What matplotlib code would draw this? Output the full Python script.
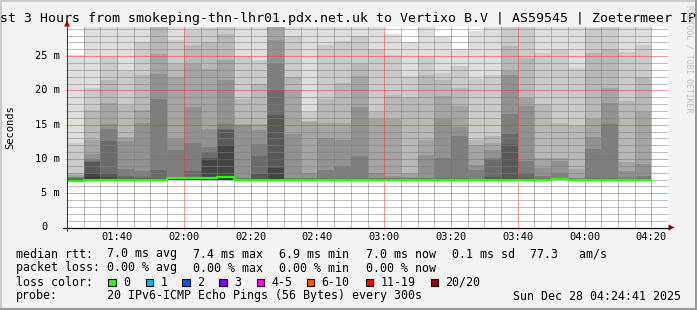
import matplotlib
matplotlib.use("Agg")
import matplotlib.pyplot as plt
from matplotlib.patches import Rectangle, Polygon
from matplotlib.lines import Line2D
from matplotlib.ticker import FixedLocator

# ---------------- data ----------------
title = "st 3 Hours from smokeping-thn-lhr01.pdx.net.uk to Vertixo B.V | AS59545 | Zoetermeer IP"

bin_start = ["01:25", "01:30", "01:35", "01:40", "01:45", "01:50", "01:55",
             "02:00", "02:05", "02:10", "02:15", "02:20", "02:25", "02:30",
             "02:35", "02:40", "02:45", "02:50", "02:55", "03:00", "03:05",
             "03:10", "03:15", "03:20", "03:25", "03:30", "03:35", "03:40",
             "03:45", "03:50", "03:55", "04:00", "04:05", "04:10", "04:15"]
bin_end = "04:20"

# upper ping quantiles per 5-min bin, in ms: [p20, p19, ..., p11] (20 pings sorted)
smoke_upper = [
    [25.2, 12.4, 8.0, 7.6, 7.4, 7.3, 7.2, 7.1, 7.0, 7.0],
    [30.0, 20.4, 17.2, 12.7, 10.7, 9.8, 9.7, 9.6, 8.0, 7.3],
    [30.0, 24.9, 21.5, 18.2, 15.1, 14.3, 12.6, 8.0, 7.3, 7.1],
    [30.0, 22.8, 17.9, 13.2, 12.6, 8.5, 7.5, 7.2, 7.1, 7.05],
    [30.0, 27.1, 22.2, 17.2, 15.2, 8.3, 7.3, 7.2, 7.1, 7.05],
    [30.0, 30.0, 30.0, 25.3, 22.4, 18.8, 8.4, 7.2, 7.1, 7.05],
    [30.0, 27.4, 23.8, 21.9, 12.9, 11.3, 7.4, 7.3, 7.25, 7.2],
    [30.0, 28.8, 26.6, 23.8, 17.6, 12.4, 8.3, 7.3, 7.25, 7.2],
    [30.0, 29.1, 27.1, 23.1, 14.3, 11.7, 11.0, 10.1, 9.9, 7.3],
    [30.0, 30.0, 28.2, 24.5, 21.5, 15.1, 14.3, 14.2, 12.1, 7.5],
    [30.0, 25.0, 18.7, 15.1, 15.0, 7.2, 7.15, 7.1, 7.05, 7.0],
    [30.0, 24.5, 21.0, 15.1, 14.2, 12.2, 10.5, 7.8, 7.2, 7.1],
    [30.0, 30.0, 30.0, 30.0, 27.4, 23.8, 20.0, 16.4, 8.7, 7.2],
    [30.0, 28.0, 21.9, 20.0, 13.6, 7.2, 7.15, 7.1, 7.05, 7.0],
    [30.0, 16.9, 15.5, 15.45, 7.9, 7.2, 7.15, 7.1, 7.05, 7.0],
    [30.0, 26.6, 18.7, 15.2, 13.0, 8.4, 7.2, 7.1, 7.05, 7.0],
    [30.0, 27.2, 21.1, 15.2, 12.7, 9.0, 7.2, 7.1, 7.05, 7.0],
    [30.0, 28.0, 23.8, 22.1, 17.6, 10.4, 7.2, 7.1, 7.05, 7.0],
    [30.0, 26.1, 16.9, 15.9, 7.9, 7.2, 7.15, 7.1, 7.05, 7.0],
    [28.3, 25.2, 19.3, 15.8, 7.5, 7.2, 7.15, 7.1, 7.05, 7.0],
    [27.1, 22.1, 19.0, 7.9, 7.3, 7.2, 7.15, 7.1, 7.05, 7.0],
    [30.0, 24.9, 22.3, 12.7, 10.6, 7.2, 7.15, 7.1, 7.05, 7.0],
    [28.0, 22.6, 21.5, 19.2, 15.8, 10.1, 7.2, 7.1, 7.05, 7.0],
    [26.0, 23.5, 20.3, 17.7, 14.7, 13.4, 7.2, 7.1, 7.05, 7.0],
    [28.6, 21.6, 12.7, 12.1, 9.1, 8.4, 7.1, 7.0, 6.95, 6.9],
    [30.0, 22.3, 13.4, 12.3, 11.3, 10.2, 9.8, 7.3, 7.1, 7.05],
    [30.0, 30.0, 26.5, 22.8, 22.2, 16.5, 13.7, 12.2, 7.2, 7.1],
    [30.0, 30.0, 24.8, 18.9, 17.7, 9.7, 8.0, 7.2, 7.1, 7.05],
    [30.0, 25.4, 18.0, 10.1, 8.7, 7.5, 7.2, 7.1, 7.05, 7.0],
    [30.0, 26.0, 15.3, 10.2, 9.7, 8.0, 7.2, 7.15, 7.1, 7.1],
    [30.0, 23.2, 14.8, 8.5, 7.2, 7.15, 7.1, 7.05, 7.0, 7.0],
    [30.0, 29.1, 25.4, 15.9, 13.2, 11.4, 7.2, 7.1, 7.05, 7.0],
    [30.0, 30.0, 26.0, 20.3, 18.1, 15.1, 7.2, 7.1, 7.05, 7.0],
    [30.0, 25.6, 18.4, 9.5, 8.3, 7.4, 7.0, 6.95, 6.9, 6.9],
    [30.0, 26.6, 21.9, 16.9, 9.2, 7.5, 7.2, 7.1, 7.05, 7.0],
]

# lowest ping per bin (ms)
smoke_min = [6.8, 6.9, 6.9, 6.9, 6.9, 6.9, 7.0, 7.0, 7.0, 7.0,
             6.9, 6.9, 6.9, 6.9, 6.9, 6.9, 6.9, 6.9, 6.9, 6.9,
             6.9, 6.9, 6.9, 6.9, 6.8, 6.9, 6.9, 6.9, 6.9, 6.95,
             6.9, 6.9, 6.9, 6.8, 6.9]

# median rtt per bin (ms)
median_rtt = [6.85, 7.0, 7.0, 7.0, 7.0, 7.0, 7.2, 7.2, 7.2, 7.4,
              7.0, 7.0, 7.0, 7.0, 7.0, 7.0, 7.0, 7.0, 7.0, 7.0,
              7.0, 7.0, 7.0, 7.0, 6.88, 7.0, 7.0, 7.0, 7.0, 7.12,
              7.0, 7.0, 7.0, 6.88, 7.0]

x_range = ["01:25", "04:25"]
x_major = ["01:40", "02:00", "02:20", "02:40", "03:00", "03:20", "03:40", "04:00", "04:20"]
y_major = [0, 5, 10, 15, 20, 25]
y_major_labels = ["0", "5 m", "10 m", "15 m", "20 m", "25 m"]
y_top = 29.25

loss_labels = ["0", "1", "2", "3", "4-5", "6-10", "11-19", "20/20"]
loss_colors = ["#26ff00", "#00b8ff", "#0059ff", "#7e00ff", "#ff00ff", "#ff5500", "#ff0000", "#a10000"]

rtt_legend = ["7.0 ms avg", "7.4 ms max", "6.9 ms min", "7.0 ms now", "0.1 ms sd", "77.3   am/s"]
loss_legend = ["0.00 % avg", "0.00 % max", "0.00 % min", "0.00 % now"]
probe_text = "20 IPv6-ICMP Echo Pings (56 Bytes) every 300s"
stamp_text = "Sun Dec 28 04:24:41 2025"


def tmin(s):
    h, m = s.split(":")
    return int(h) * 60 + int(m)

# ---------------- figure ----------------
W, H = 697, 310
BG = "#f3f3f3"
MONO = "DejaVu Sans Mono"
plt.rcParams["font.family"] = MONO

fig = plt.figure(figsize=(W / 100, H / 100), dpi=100, facecolor=BG)


def fx(x):
    return x / W


def fy(y):
    return 1 - y / H


ax_l, ax_r, ax_t, ax_b = 67, 668, 27, 227.5
ax = fig.add_axes([fx(ax_l), fy(ax_b), (ax_r - ax_l) / W, (ax_b - ax_t) / H])
ax.set_facecolor("white")
ax.set_xlim(tmin(x_range[0]), tmin(x_range[1]))
ax.set_ylim(0, y_top)

edges = [tmin(s) for s in bin_start] + [tmin(bin_end)]
n = len(bin_start)

# smoke layers (outer lightest -> inner darkest)
for i in range(1, 11):
    shade = int(190 / 10 * (10 - i)) + 50
    col = "#%02x%02x%02x" % (shade, shade, shade)
    hi = [smoke_upper[k][i - 1] for k in range(n)]
    lo = list(smoke_min)
    ax.fill_between(edges, lo + [lo[-1]], hi + [hi[-1]], step="post",
                    color=col, linewidth=0, zorder=1)

# median line
ax.step(edges, median_rtt + [median_rtt[-1]], where="post", color=loss_colors[0],
        linewidth=1.6, zorder=3, solid_capstyle="butt")

# grid
ax.set_axisbelow(False)
major_x = [tmin(s) for s in x_major]
minor_x = [e for e in edges + [tmin(x_range[1])] if e not in major_x]
ax.xaxis.set_major_locator(FixedLocator(major_x))
ax.xaxis.set_minor_locator(FixedLocator(minor_x))
ax.yaxis.set_major_locator(FixedLocator(y_major))
ax.yaxis.set_minor_locator(FixedLocator([v for v in range(1, 30) if v % 5 != 0]))
ax.set_xticklabels(x_major)
ax.set_yticklabels([])
minor_col = (0.5, 0.5, 0.5, 0.2)
major_col = (1.0, 0.2, 0.2, 0.3)
ax.grid(which="minor", color=minor_col, linestyle=(0, (1, 1)), linewidth=0.72)
ax.grid(which="major", color=major_col, linestyle=(0, (1, 1)), linewidth=0.72)
ax.tick_params(which="minor", direction="out", length=1.5, width=0.72, color=minor_col)
ax.tick_params(which="major", direction="out", length=1.5, width=0.72, color=major_col,
               labelsize=7.5, pad=1.5)
for sp in ax.spines.values():
    sp.set_visible(False)

# y tick labels (right-aligned, "0" aligned with the digit column)
ytr = ax.get_yaxis_transform()
for v, lab in zip(y_major, y_major_labels):
    xr = (60 - ax_l) / (ax_r - ax_l)
    if lab == "0":
        xr = (47.5 - ax_l) / (ax_r - ax_l)
    ax.text(xr, v, lab, transform=ytr, ha="right", va="center", fontsize=7.5, family=MONO)

# axis lines with arrows
fig.add_artist(Line2D([fx(63), fx(669)], [fy(227.5), fy(227.5)], color="black", lw=0.9))
fig.add_artist(Line2D([fx(67), fx(67)], [fy(231), fy(25)], color="#444444", lw=0.8))
fig.add_artist(Polygon([(fx(668.5), fy(224.5)), (fx(668.5), fy(230.5)), (fx(674.5), fy(227.5))],
                       closed=True, color="#9b0000", lw=0))
fig.add_artist(Polygon([(fx(64), fy(26.5)), (fx(70), fy(26.5)), (fx(67), fy(20.5))],
                       closed=True, color="#9b0000", lw=0))

# titles
fig.text(fx(0.5), fy(18.5), title, ha="left", va="center", fontsize=9.57, family=MONO)
fig.text(fx(10), fy(127), "Seconds", rotation=90, ha="center", va="center", fontsize=7.5, family=MONO)
fig.text(fx(689), fy(59), "RRDTOOL / TOBI OETIKER", rotation=270, ha="center", va="center",
         fontsize=5.9, family=MONO, color="#c4c4c4")

# legend
LFS = 8.37
rows_y = [254, 268, 282, 296]
fig.text(fx(16), fy(rows_y[0]), "median rtt:", ha="left", va="center", fontsize=LFS)
for k, s in enumerate(rtt_legend):
    xs = [107, 193, 279, 365.5, 451.5, 530][k]
    fig.text(fx(xs), fy(rows_y[0]), s, ha="left", va="center", fontsize=LFS)
fig.text(fx(16), fy(rows_y[1]), "packet loss:", ha="left", va="center", fontsize=LFS)
for k, s in enumerate(loss_legend):
    xs = [107, 193, 279, 365.5][k]
    fig.text(fx(xs), fy(rows_y[1]), s, ha="left", va="center", fontsize=LFS)
fig.text(fx(16), fy(rows_y[2]), "loss color:", ha="left", va="center", fontsize=LFS)
sw_x = [108.3, 145.7, 182.3, 219.3, 256.7, 306.7, 365.7, 430.7]
for xs, lab, c in zip(sw_x, loss_labels, loss_colors):
    fig.add_artist(Rectangle((fx(xs), fy(286)), 7.5 / W, 7.5 / H, facecolor=c,
                             edgecolor="black", lw=0.8))
    fig.text(fx(xs + 14.5), fy(rows_y[2]), lab, ha="left", va="center", fontsize=LFS)
fig.text(fx(16), fy(rows_y[3]), "probe:", ha="left", va="center", fontsize=LFS)
fig.text(fx(107), fy(rows_y[3]), probe_text, ha="left", va="center", fontsize=LFS)
fig.text(fx(513), fy(rows_y[3]), stamp_text, ha="left", va="center", fontsize=LFS)

# 3D frame
fig.add_artist(Line2D([0, 1], [fy(1), fy(1)], color="#cbcbcb", lw=1.5))
fig.add_artist(Line2D([fx(1), fx(1)], [0, 1], color="#cbcbcb", lw=1.5))
fig.add_artist(Line2D([0, 1], [fy(309), fy(309)], color="#999999", lw=1.5))
fig.add_artist(Line2D([fx(696), fx(696)], [0, 1], color="#999999", lw=1.5))

fig.savefig("out.png", dpi=100, facecolor=BG)
